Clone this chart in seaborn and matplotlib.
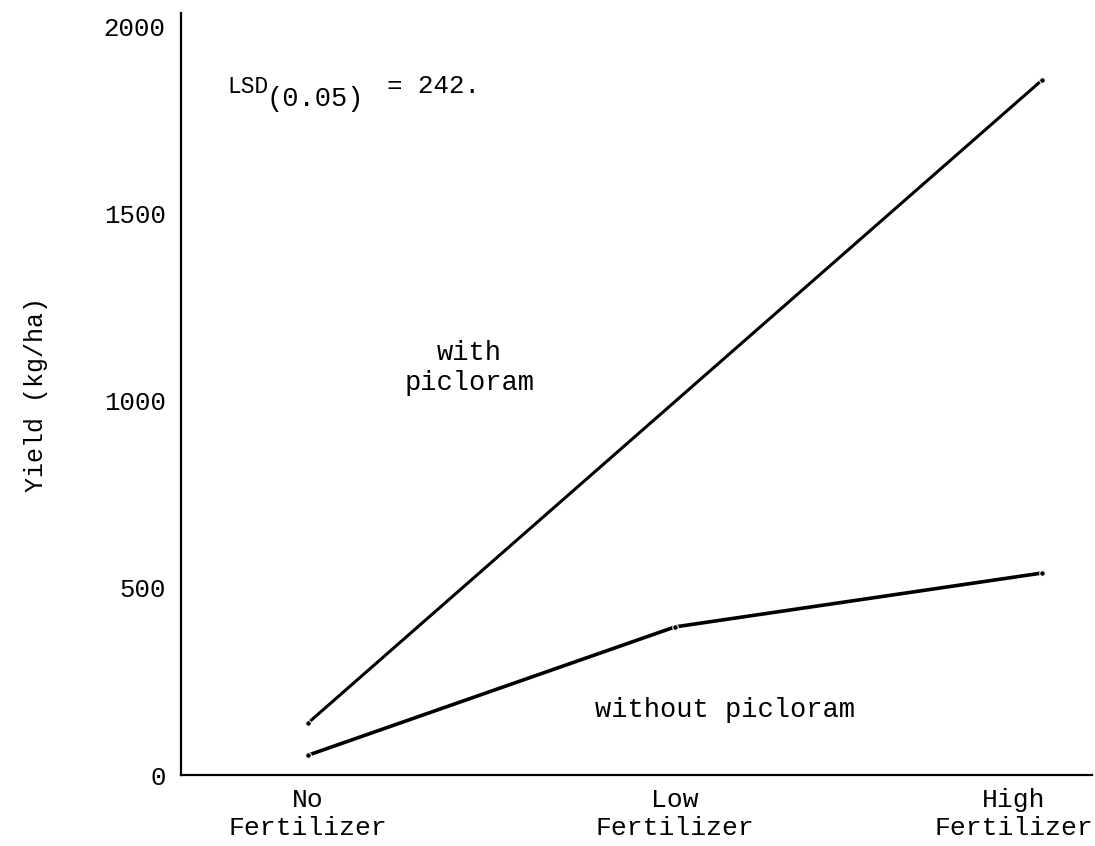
import matplotlib
matplotlib.use("Agg")
import matplotlib.pyplot as plt
import matplotlib.transforms as mtransforms
import seaborn as sns
import pandas as pd

categories = ["No\nFertilizer", "Low\nFertilizer", "High\nFertilizer"]
with_picloram = [139, 1000, 1858]
without_picloram = [53, 396, 540]
y_ticks = [0, 500, 1000, 1500, 2000]

sns.set_style("white")
plt.rcParams['font.family'] = ['Liberation Mono', 'DejaVu Sans Mono']
for key in ["text.color", "axes.labelcolor", "xtick.color", "ytick.color"]:
    plt.rcParams[key] = "black"

df = pd.DataFrame({
    "x": list(range(len(categories))) * 2,
    "yield": with_picloram + without_picloram,
    "series": ["with"] * 3 + ["without"] * 3,
})
# with-picloram line is drawn straight from No to High fertilizer
df_with = df[df.series == "with"].iloc[[0, 2]]
df_without = df[df.series == "without"]

fig = plt.figure(figsize=(10.95, 8.46), dpi=100)
ax = fig.add_axes([0.1653, 0.0839, 0.832, 0.9007])

sns.lineplot(data=df_with, x="x", y="yield", color="black", lw=2.2,
             marker="o", markersize=4, ax=ax, legend=False)
sns.lineplot(data=df_without, x="x", y="yield", color="black", lw=2.6,
             marker="o", markersize=4, ax=ax, legend=False)

ax.set_xlim(-0.346, 2.136)
ax.set_ylim(0, 2037)
ax.set_xticks(range(len(categories)))
ax.set_xticklabels(categories, fontsize=19, linespacing=1.25)
ax.set_yticks(y_ticks)
ax.set_yticklabels([str(v) for v in y_ticks], fontsize=18.5)
ax.tick_params(axis="both", length=0)
ax.tick_params(axis="y", pad=11)
ax.tick_params(axis="x", pad=9)
# last category label sits a little left so it stays on the page
last = ax.get_xticklabels()[-1]
last.set_transform(last.get_transform() +
                   mtransforms.ScaledTranslation(-28 / 100, 0, fig.dpi_scale_trans))
ax.set_xlabel("")
ax.set_ylabel("Yield (kg/ha)", fontsize=18, labelpad=40)

for side in ["top", "right"]:
    ax.spines[side].set_visible(False)
for side in ["left", "bottom"]:
    ax.spines[side].set_color("black")
    ax.spines[side].set_linewidth(1.6)

ax.text(0.439, 1088, "with\npicloram", ha="center", va="center", fontsize=19.5,
        linespacing=1.2)
ax.text(1.136, 155, "without picloram", ha="center", va="baseline", fontsize=19.5)

ax.text(-0.221, 1824, "LSD", ha="left", va="baseline", fontsize=16.5)
ax.text(-0.112, 1789, "(0.05)", ha="left", va="baseline", fontsize=19.5)
ax.text(0.215, 1824, "= 242.", ha="left", va="baseline", fontsize=18.5)

fig.savefig("out.png", dpi=100)
